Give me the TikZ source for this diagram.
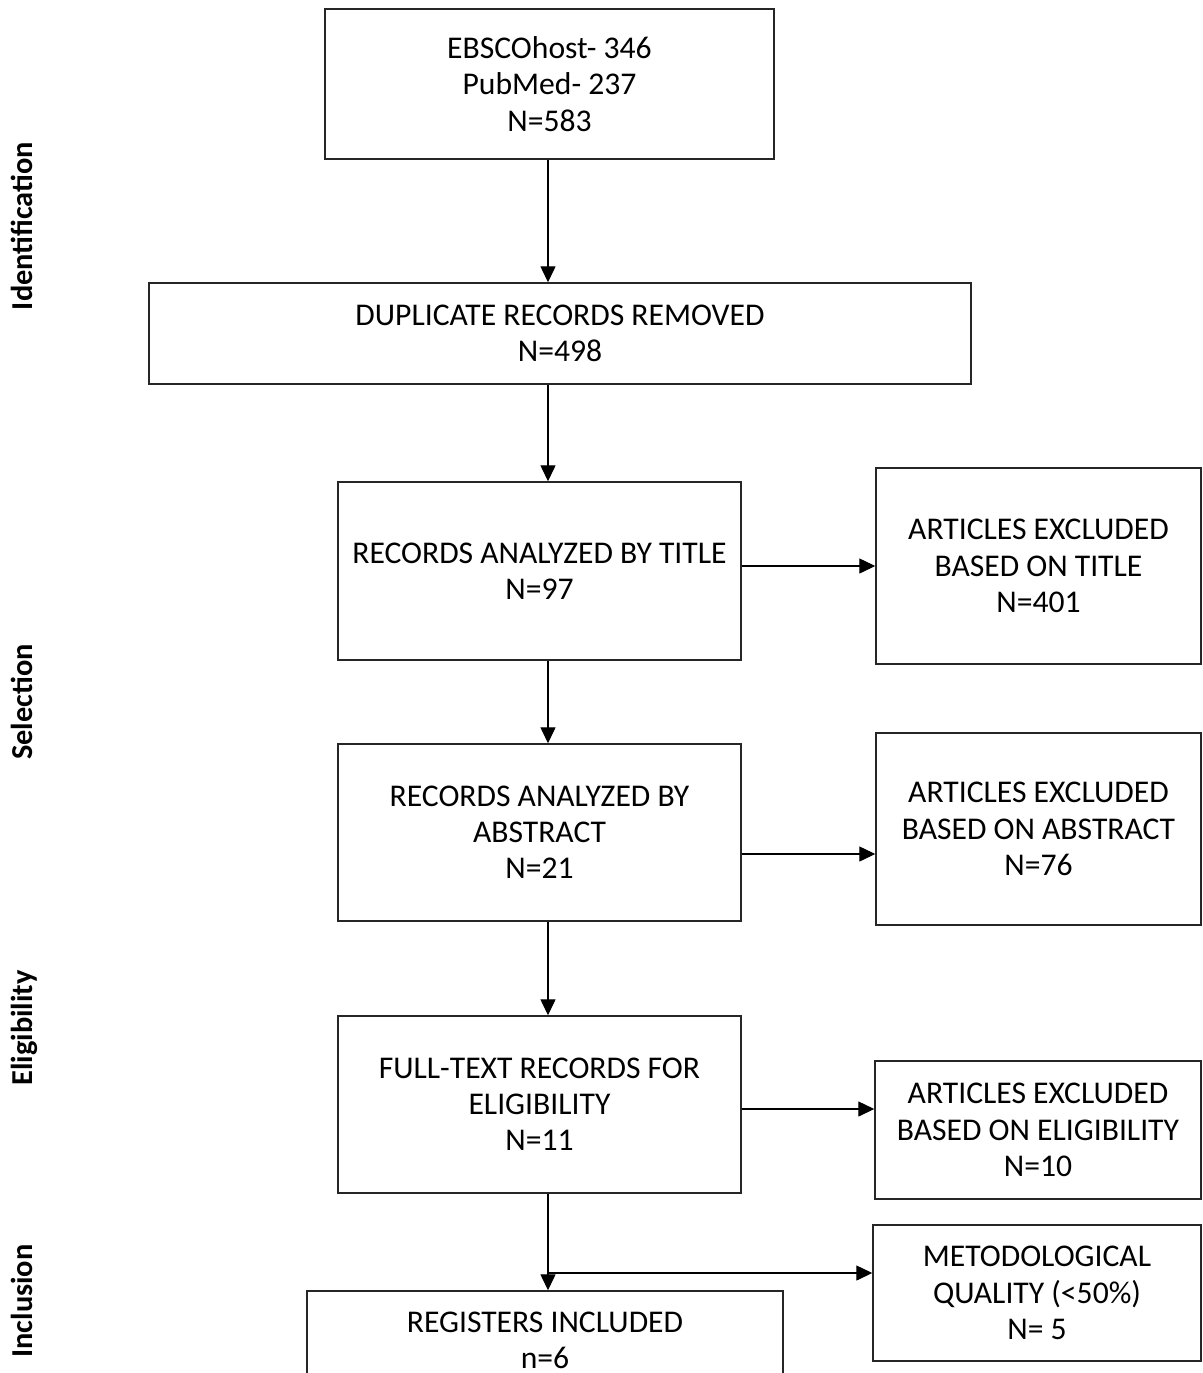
\documentclass[tikz,border=0pt]{standalone}
\usepackage{fontspec}
\setmainfont{Carlito}
\usetikzlibrary{arrows.meta}
\newlength\pxu
\setlength\pxu{0.02cm}

\tikzset{
  box/.style={draw=black!85, line width=0.85pt, align=center, inner sep=0pt,
    font=\fontsize{18}{20.6}\selectfont},
  stage/.style={rotate=90, anchor=base, font=\fontsize{17.3}{20.5}\selectfont\bfseries},
  flow/.style={line width=0.6pt, -{Triangle[length=9pt,width=8.5pt]}}
}

\begin{document}
\begin{tikzpicture}[x=0.02cm, y=-0.02cm]
    \useasboundingbox (0,0) rectangle (1203,1373);
    \clip (0,0) rectangle (1203,1373);

    % phases on the left
    \node[stage] (ident) at (32.5,226) {Identification};
    \node[stage] (selec) at (32.5,702) {Selection};
    \node[stage] (elig) at (32.5,1028) {Eligibility};
    \node[stage] (inclu) at (32.5,1301) {Inclusion};

    % main column
    \node[box, minimum width=449\pxu, minimum height=150\pxu] (sources) at (549.5,84)
      {EBSCOhost- 346\\PubMed- 237\\N=583};
    \node[box, minimum width=822\pxu, minimum height=101\pxu] (dupl) at (560,333.5)
      {DUPLICATE RECORDS REMOVED\\N=498};
    \node[box, minimum width=403\pxu, minimum height=178\pxu] (title) at (539.5,571)
      {RECORDS ANALYZED BY TITLE\\N=97};
    \node[box, minimum width=403\pxu, minimum height=177\pxu] (abstr) at (539.5,832.5)
      {RECORDS ANALYZED BY\\ABSTRACT\\N=21};
    \node[box, minimum width=403\pxu, minimum height=177\pxu] (full) at (539.5,1104.5)
      {FULL-TEXT RECORDS FOR\\ELIGIBILITY\\N=11};
    \node[box, minimum width=476\pxu, minimum height=98\pxu] (incl) at (545,1340)
      {REGISTERS INCLUDED\\n=6};

    % excluded column
    \node[box, minimum width=325\pxu, minimum height=196\pxu] (exttl) at (1038.5,566)
      {ARTICLES EXCLUDED\\BASED ON TITLE\\N=401};
    \node[box, minimum width=325\pxu, minimum height=192\pxu] (exabs) at (1038.5,829)
      {ARTICLES EXCLUDED\\BASED ON ABSTRACT\\N=76};
    \node[box, minimum width=326\pxu, minimum height=138\pxu] (exelg) at (1038,1130)
      {ARTICLES EXCLUDED\\BASED ON ELIGIBILITY\\N=10};
    \node[box, minimum width=328\pxu, minimum height=136\pxu] (qual) at (1037,1293)
      {METODOLOGICAL\\QUALITY (<50\%)\\N= 5};

    \coordinate (spine) at (548,0);
    \coordinate (split) at (549,1273);

    \draw[flow] (spine |- sources.south) -- (spine |- dupl.north);
    \draw[flow] (spine |- dupl.south) -- (spine |- title.north);
    \draw[flow] (spine |- title.south) -- (spine |- abstr.north);
    \draw[flow] (spine |- abstr.south) -- (spine |- full.north);
    \draw[flow] (spine |- full.south) -- (spine |- incl.north);

    \draw[flow] ([yshift=5\pxu]title.east) -- ([yshift=5\pxu]title.east -| exttl.west);
    \draw[flow] ([yshift=-21.5\pxu]abstr.east) -- ([yshift=-21.5\pxu]abstr.east -| exabs.west);
    \draw[flow] ([yshift=-4.5\pxu]full.east) -- ([yshift=-4.5\pxu]full.east -| exelg.west);
    \draw[flow] (split) -- (split -| qual.west);
\end{tikzpicture}
\end{document}
